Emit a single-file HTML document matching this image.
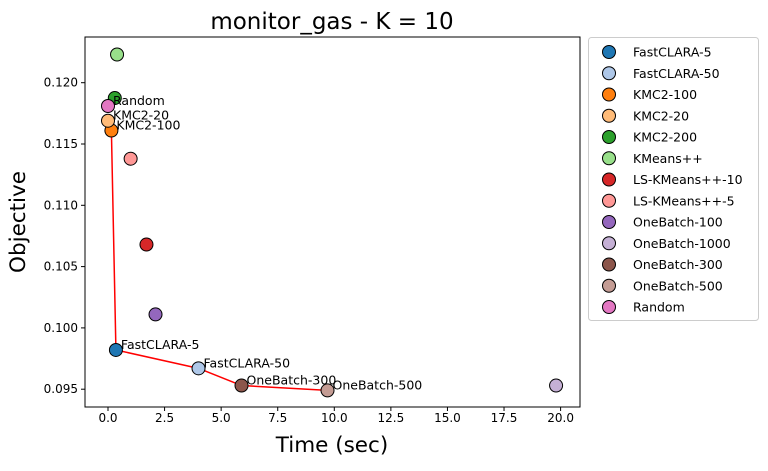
<!DOCTYPE html>
<html><head><meta charset="utf-8"><style>
body{margin:0;background:#fff;font-family:"Liberation Sans","DejaVu Sans",sans-serif}
svg text{font-family:"DejaVu Sans","Liberation Sans",sans-serif}
</style></head><body>
<svg id="c" width="768" height="466" xmlns="http://www.w3.org/2000/svg"></svg>
<script>
const names=["FastCLARA-5","FastCLARA-50","KMC2-100","KMC2-20","KMC2-200","KMeans++","LS-KMeans++-10","LS-KMeans++-5","OneBatch-100","OneBatch-1000","OneBatch-300","OneBatch-500","Random"];
const colors=["#1f77b4","#aec7e8","#ff7f0e","#ffbb78","#2ca02c","#98df8a","#d62728","#ff9896","#9467bd","#c5b0d5","#8c564b","#c49c94","#e377c2"];
const times=[0.35,4.0,0.15,0.0,0.3,0.4,1.7,1.0,2.1,19.8,5.9,9.7,0.0];
const objectives=[0.0982,0.0967,0.1161,0.1169,0.11875,0.1223,0.1068,0.1138,0.1011,0.0953,0.0953,0.0949,0.1181];
const labeled=["Random","KMC2-20","KMC2-100","FastCLARA-5","FastCLARA-50","OneBatch-300","OneBatch-500"];
const front=["KMC2-100","FastCLARA-5","FastCLARA-50","OneBatch-300","OneBatch-500"];
const xTicks=[0,2.5,5,7.5,10,12.5,15,17.5,20];
const xTickLabels=["0.0","2.5","5.0","7.5","10.0","12.5","15.0","17.5","20.0"];
const yTicks=[0.095,0.100,0.105,0.110,0.115,0.120];
const yTickLabels=["0.095","0.100","0.105","0.110","0.115","0.120"];
const L=85,R=580,T=37,B=407;
const X=v=>108+v*22.63;
const Y=v=>82.7-(v-0.120)*12260;
const svg=document.getElementById('c');
function mk(t,a,txt){const e=document.createElementNS("http://www.w3.org/2000/svg",t);for(const k in a)e.setAttribute(k,a[k]);if(txt!==undefined)e.textContent=txt;svg.appendChild(e);return e;}
let e=mk('text',{x:332,y:29,'font-size':23,'text-anchor':'middle'},'monitor_gas - K = 10');


xTicks.forEach((v,i)=>{mk('line',{x1:X(v),x2:X(v),y1:B,y2:B+4,stroke:'#000'});
 e=mk('text',{x:X(v),y:B+15,'font-size':12,'text-anchor':'middle'},xTickLabels[i]);
 
 });
yTicks.forEach((v,i)=>{mk('line',{x1:L-4,x2:L,y1:Y(v),y2:Y(v),stroke:'#000'});
 e=mk('text',{x:L-7,y:Y(v)+4,'font-size':12,'text-anchor':'end'},yTickLabels[i]);
 
 });
e=mk('text',{x:332,y:452,'font-size':21.5,'text-anchor':'middle'},'Time (sec)');


e=mk('text',{x:25,y:222,'font-size':21.5,'text-anchor':'middle',transform:'rotate(-90 25 222)'},'Objective');


const pts=front.map(n=>{const i=names.indexOf(n);return X(times[i])+','+Y(objectives[i]);}).join(' ');
e=mk('polyline',{points:pts,fill:'none',stroke:'red','stroke-width':1.5});


names.forEach((n,i)=>{e=mk('circle',{cx:X(times[i]),cy:Y(objectives[i]),r:6.5,fill:colors[i],stroke:'#000','stroke-width':1});
 
 });
labeled.forEach(n=>{const i=names.indexOf(n);
 e=mk('text',{x:X(times[i])+5,y:Y(objectives[i])-1,'font-size':12.5},n);
 
 });
e=mk('rect',{x:L,y:T,width:R-L,height:B-T,fill:'none',stroke:'#000','stroke-width':1});


e=mk('rect',{x:588.5,y:37.5,width:170,height:283,fill:'#fff',stroke:'#ccc',rx:3});


names.forEach((n,i)=>{const y=52+i*21.25;
 e=mk('circle',{cx:609,cy:y,r:6.5,fill:colors[i],stroke:'#000'});
 
 
 e=mk('text',{x:633,y:y+4.5,'font-size':12.5},n);
 
 });
</script>
</body></html>
